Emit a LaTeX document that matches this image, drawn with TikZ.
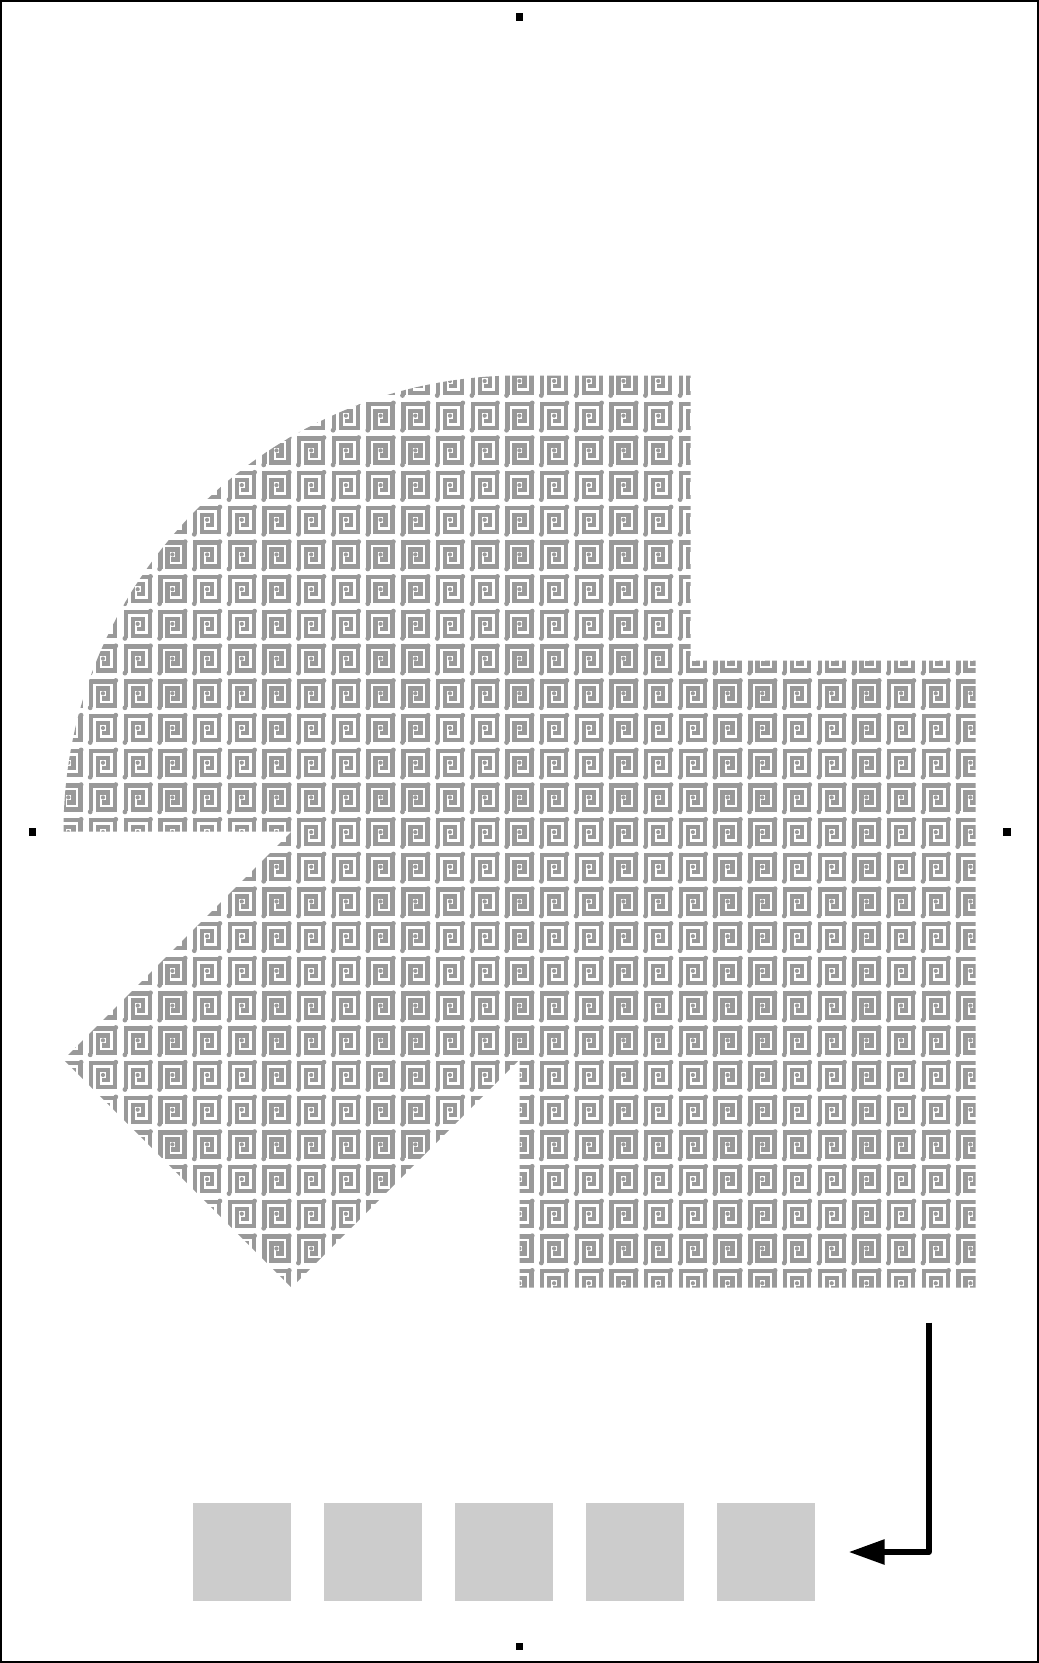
\documentclass[tikz,border=0pt]{standalone}
\usetikzlibrary{arrows.meta}
\definecolor{patgray}{RGB}{153,153,153}
\definecolor{boxgray}{RGB}{204,204,204}
\tikzset{
  patstroke/.style={draw=patgray, line width=4.4pt},
  glyph/.pic={
    \draw[patstroke] (0,26)--(0,0)--(24,0)--(24,24)--(7,24)--(7,7)--(17,7)--(17,17)--(11,17);
    \fill[patgray] (-0.8,26.5) circle (2.4) (24.8,-0.8) circle (2.4) (12,12) circle (2.1);
  },
  sqbox/.style={fill=boxgray, minimum size=97.5pt, inner sep=0pt, draw=none},
  marker/.style={fill=black, minimum size=7.5pt, inner sep=0pt, draw=none},
  flowarrow/.style={line width=5.8pt, line join=round, -{Triangle[length=36pt,width=24pt]}},
  frame/.style={draw=black, line width=2pt},
}
\begin{document}
\begin{tikzpicture}[x=1pt,y=-1pt]
\useasboundingbox (0,0) rectangle (1039,1663);
\draw[frame] (1,1) rectangle (1038,1662);
% markers
\node[marker] (mt) at (519.5,17) {};
\node[marker] (ml) at (32.3,832) {};
\node[marker] (mr) at (1007,832) {};
\node[marker] (mb) at (519.5,1646.5) {};
% patterned shape
\begin{scope}
  \clip (63.5,831.5) arc[start angle=180, end angle=270, radius=456]
     -- (690.5,375.5) -- (690.5,660.5) -- (975.5,660.5) -- (975.5,1287.5)
     -- (519.5,1287.5) -- (519.5,1059.5) -- (291.5,1287.5) -- (63.5,1059.5)
     -- (291.5,831.5) -- cycle;
  \foreach \i in {-17,...,10} {
    \foreach \j in {-10,...,16} {
      \pic at ({611.5+34.7*\i},{716+34.7*\j}) {glyph};
    }
  }
\end{scope}
% squares
\foreach \k in {1,...,5} {
  \node[sqbox] (sq\k) at ({242+131*(\k-1)},1552) {};
}
% arrow
\coordinate (arrstart) at (928.7,1322.7);
\draw[flowarrow] (arrstart) |- ([xshift=33.7pt]sq5.east);
\end{tikzpicture}
\end{document}
